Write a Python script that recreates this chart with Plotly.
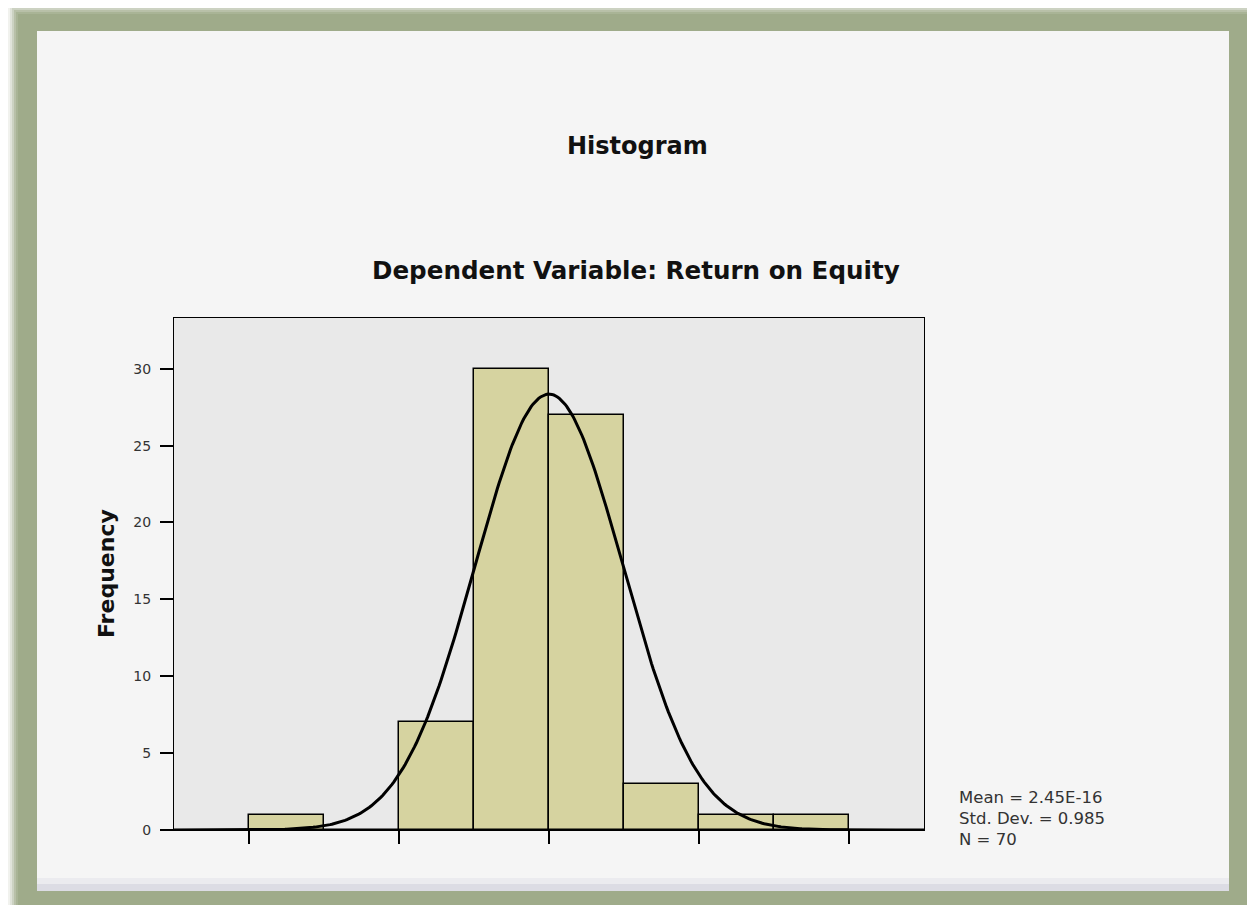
import numpy as np
import plotly.graph_objects as go

# ---- data ----
bin_centers = [-3.5, -2.5, -1.5, -0.5, 0.5, 1.5, 2.5, 3.5]
frequencies = [1, 0, 7, 30, 27, 3, 1, 1]
x_ticks = [-4, -2, 0, 2, 4]
y_ticks = [0, 5, 10, 15, 20, 25, 30]
mean_label = "2.45E-16"
mean_val = 2.45e-16
std_dev = 0.985
n_obs = 70
bin_width = 1.0

# ---- layout geometry (page pixels; figure sits at an 8px body offset) ----
OFF = 8
W, H = 1255 - OFF, 905 - OFF
PL, PR, PT, PB = 174, 924, 318, 830


def px(x):
    return (x - PL) / (PR - PL)


def py(y):
    return (PB - y) / (PB - PT)


# normal curve derived from the reported statistics
xs = np.linspace(-5, 5, 400)
ys = n_obs * bin_width * np.exp(-0.5 * ((xs - mean_val) / std_dev) ** 2) / (std_dev * np.sqrt(2 * np.pi))

fig = go.Figure()
fig.add_trace(go.Bar(
    x=bin_centers, y=frequencies, width=bin_width,
    marker=dict(color="#d6d3a0", line=dict(color="black", width=1.5)),
    showlegend=False, hoverinfo="skip",
))
fig.add_trace(go.Scatter(
    x=xs, y=ys, mode="lines", line=dict(color="black", width=3),
    showlegend=False, hoverinfo="skip",
))

FRAME = "#9fab8a"
shapes = []
# soft outer shadow of the frame (top / left fade)
for i, op in enumerate([0.15, 0.2, 0.3, 0.45, 0.6]):
    d = 10 - i * 2
    shapes.append(dict(type="rect", xref="paper", yref="paper", layer="below",
                       x0=px(18 - d), x1=px(1262), y0=py(912), y1=py(14 - d),
                       fillcolor=FRAME, opacity=op, line=dict(width=0)))
# main frame band
shapes.append(dict(type="rect", xref="paper", yref="paper", layer="below",
                   x0=px(18), x1=px(1262), y0=py(912), y1=py(14),
                   fillcolor=FRAME, line=dict(width=0)))
# inner panel
shapes.append(dict(type="rect", xref="paper", yref="paper", layer="below",
                   x0=px(37), x1=px(1229), y0=py(891), y1=py(31),
                   fillcolor="#f5f5f5", line=dict(width=0)))
shapes.append(dict(type="rect", xref="paper", yref="paper", layer="below",
                   x0=px(37), x1=px(1229), y0=py(891), y1=py(884),
                   fillcolor="#dcdce4", line=dict(width=0)))
shapes.append(dict(type="rect", xref="paper", yref="paper", layer="below",
                   x0=px(37), x1=px(1229), y0=py(884), y1=py(878),
                   fillcolor="#ebebef", line=dict(width=0)))
# plot area background
shapes.append(dict(type="rect", xref="paper", yref="paper", layer="below",
                   x0=0, x1=1, y0=0, y1=1,
                   fillcolor="#e9e9e9", line=dict(width=0)))

FONT = "DejaVu Sans"
annotations = [
    dict(text="<b>Histogram</b>", x=px(637), y=py(146), xref="paper", yref="paper",
         showarrow=False, xanchor="center", yanchor="middle",
         font=dict(family=FONT, size=24, color="#111")),
    dict(text="<b>Dependent Variable: Return on Equity</b>", x=px(636), y=py(270),
         xref="paper", yref="paper", showarrow=False, xanchor="center", yanchor="middle",
         font=dict(family=FONT, size=24.6, color="#111")),
    dict(text="<b>Frequency</b>", x=px(106), y=py(574), xref="paper", yref="paper",
         showarrow=False, xanchor="center", yanchor="middle", textangle=-90,
         font=dict(family=FONT, size=22, color="#111")),
]
stat_lines = [f"Mean = {mean_label}", f"Std. Dev. = {std_dev}", f"N = {n_obs}"]
for i, line in enumerate(stat_lines):
    annotations.append(dict(text=line, x=px(957), y=py(797 + 21 * i), xref="paper", yref="paper",
                            showarrow=False, xanchor="left", yanchor="middle", align="left",
                            font=dict(family=FONT, size=16.5, color="#333")))

fig.update_layout(
    width=W, height=H,
    margin=dict(l=PL - OFF, r=W - (PR - OFF), t=PT - OFF, b=H - (PB - OFF), pad=0),
    paper_bgcolor="white",
    plot_bgcolor="#e9e9e9",
    shapes=shapes,
    annotations=annotations,
    bargap=0,
    xaxis=dict(range=[-5, 5], tickvals=x_ticks, showticklabels=False,
               ticks="outside", ticklen=13, tickwidth=1.5, tickcolor="black",
               showgrid=False, zeroline=False, showline=True, linecolor="black",
               linewidth=1, mirror=True),
    yaxis=dict(range=[0, 33.3], tickvals=y_ticks, ticks="outside", ticklen=13,
               tickwidth=1.5, tickcolor="black", showgrid=False, zeroline=False,
               showline=True, linecolor="black", linewidth=1, mirror=True,
               ticklabelstandoff=6,
               tickfont=dict(family=FONT, size=14, color="#333")),
)

fig.write_html("out.html")
